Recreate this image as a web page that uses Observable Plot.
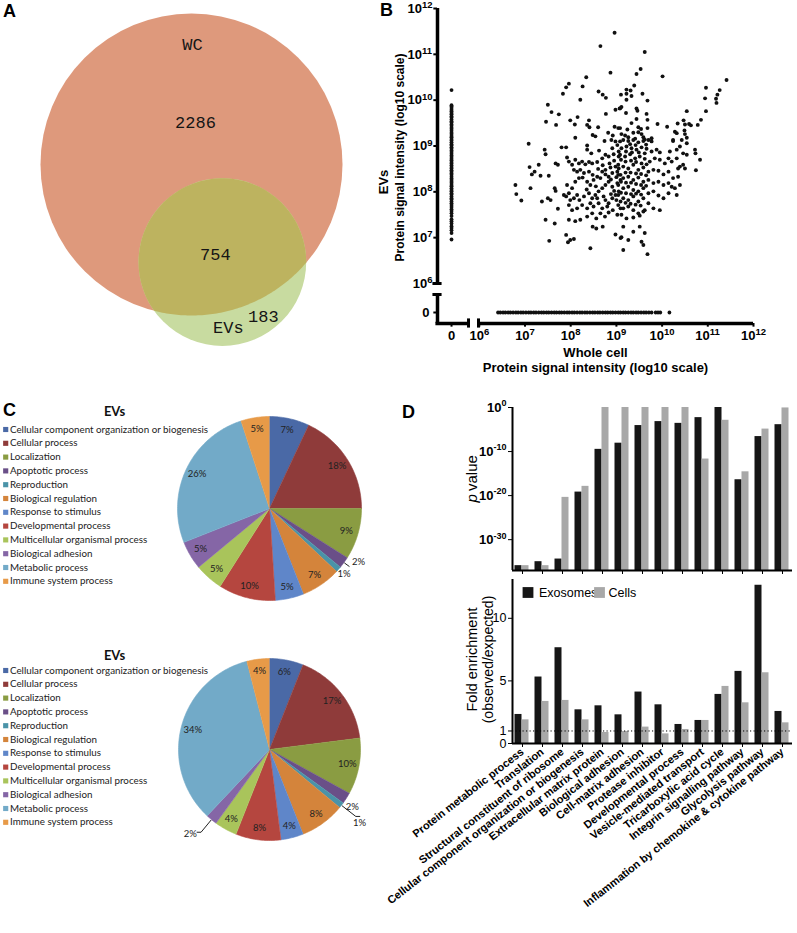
<!DOCTYPE html>
<html><head><meta charset="utf-8">
<script src="https://cdn.jsdelivr.net/npm/d3@7"></script>
<script src="https://cdn.jsdelivr.net/npm/@observablehq/plot@0.6"></script>
<style>
body{margin:0;background:#fff;}
#fig{position:relative;width:797px;height:933px;overflow:hidden;background:#fff;}
.panel{position:absolute;}
.panel svg{overflow:visible;display:block;}
.letter{position:absolute;font:bold 18px "Liberation Sans",Arial,sans-serif;line-height:18px;color:#000;}
</style></head><body><div id="fig"></div>
<script>
// ---------------- DATA ----------------
// Panel A: Venn counts
const vennSets = ["WC", "EVs"];
const vennOnly = [2286, 183];      // WC only, EVs only
const vennShared = 754;

// Panel B: proteins found in both fractions, [log10 whole-cell intensity, log10 EV intensity]
const scatterLog10 = [
[8.96,11.47],[8.65,11.18],[8.87,10.60],[8.34,10.50],[7.96,10.36],[7.90,10.28],[8.26,10.30],[7.83,10.14],[8.21,10.01],[8.61,10.19],[8.70,10.12],[8.77,10.05],[7.50,9.90],[7.58,9.74],[7.74,9.69],[7.46,9.53],[7.68,9.46],[7.99,9.56],[8.09,9.47],[8.15,9.63],[8.40,9.56],[8.36,9.46],[8.41,9.41],[8.77,9.70],[8.98,9.79],[9.07,9.82],[8.60,9.41],[8.96,9.42],[9.04,9.39],[8.10,9.18],[8.48,9.24],[8.54,9.21],[8.82,9.29],[8.92,9.23],
[9.62,11.05],[9.53,10.68],[9.44,10.57],[10.01,10.52],[11.41,10.44],[9.39,10.32],[9.22,10.23],[9.31,10.21],[10.96,10.27],[11.26,10.22],[11.21,10.12],[9.10,10.12],[9.22,10.14],[9.33,10.09],[9.57,10.14],[9.22,10.01],[9.68,9.99],[10.94,10.04],[11.18,10.03],[11.19,9.94],[9.08,9.82],[9.11,9.85],[9.44,9.82],[9.46,9.77],[9.21,9.72],[10.54,9.76],[10.96,9.76],[9.66,9.70],[9.44,9.59],[9.68,9.57],[9.33,9.50],[9.90,9.48],[10.11,9.42],[10.34,9.49],[10.47,9.56],[10.50,9.47],[10.59,9.48],[10.63,9.45],[10.78,9.46],[10.85,9.57],[9.08,9.39],[9.24,9.36],[9.48,9.41],[9.54,9.37],[9.68,9.39],[9.77,9.17],[10.28,9.31],[10.32,9.28],[10.49,9.34],[10.50,9.26],[10.54,9.18],[10.24,9.13],[9.11,9.26],[9.19,9.23],[9.26,9.19],[9.37,9.29],[9.48,9.30],[9.55,9.26],[9.59,9.19],[9.62,9.14],[9.41,9.16],
[7.08,9.05],[7.43,8.92],[7.45,8.82],[7.80,8.97],[7.90,8.97],[8.36,9.01],[8.36,8.92],[8.45,8.84],[8.74,9.11],[8.89,9.13],[8.98,9.10],[9.02,9.02],[8.91,8.95],[9.05,8.88],[7.10,8.54],[7.30,8.59],[7.21,8.44],[7.15,8.38],[7.34,8.35],[7.52,8.35],[7.67,8.62],[7.72,8.59],[7.92,8.75],[7.96,8.66],[8.03,8.59],[8.10,8.70],[8.18,8.62],[8.25,8.66],[8.32,8.60],[8.40,8.65],[8.47,8.62],[8.58,8.65],[8.69,8.73],[8.76,8.81],[8.83,8.77],[8.94,8.82],[9.05,8.77],[8.07,8.48],[8.14,8.44],[8.21,8.48],[8.29,8.41],[8.40,8.44],[8.48,8.37],[8.60,8.50],[8.69,8.44],[8.76,8.48],[8.87,8.53],[8.98,8.55],[9.05,8.51],
[6.79,8.15],[7.12,8.08],[6.81,7.95],[6.92,7.81],[7.37,7.79],[7.50,7.86],[7.56,7.82],[7.65,8.08],[7.67,8.02],[7.72,7.63],[7.85,7.93],[7.90,7.90],[7.96,7.97],[8.03,8.08],[8.10,8.22],[8.18,8.30],[8.26,8.31],[8.36,8.22],[8.43,8.15],[8.50,8.26],[8.58,8.33],[8.65,8.30],[8.76,8.38],[8.83,8.33],[8.91,8.41],[9.02,8.44],[9.09,8.37],[7.92,8.15],[7.99,7.82],[8.07,7.86],[8.14,7.93],[8.19,7.82],[8.29,7.90],[8.40,7.97],[8.47,7.86],[8.54,7.93],[8.61,8.01],[8.69,8.08],[8.76,8.15],[8.83,8.22],[8.91,8.11],[9.02,8.19],[9.09,8.26],
[7.96,7.71],[8.03,7.60],[8.14,7.64],[8.25,7.71],[8.36,7.64],[8.43,7.75],[8.50,7.68],[8.61,7.75],[8.69,7.64],[8.76,7.82],[8.83,7.75],[8.91,7.86],[8.98,7.93],[9.05,8.01],[9.09,7.79],[7.45,7.39],[7.65,7.31],[7.96,7.39],[8.10,7.36],[8.21,7.39],[8.36,7.46],[8.47,7.53],[8.56,7.42],[8.65,7.53],[8.75,7.46],[8.83,7.55],[8.92,7.60],[9.02,7.50],[9.09,7.64],[8.48,7.24],[8.56,7.20],[8.70,7.24],[8.98,7.07],[9.09,6.99],[7.90,7.06],[7.99,6.95],[8.07,6.97],[7.94,6.90],[7.53,6.93],[8.43,6.77],
[9.08,9.10],[9.15,9.13],[9.26,9.11],[9.37,9.13],[9.48,9.08],[9.59,9.11],[9.70,9.13],[9.77,9.10],[10.24,9.11],[10.43,9.13],[10.54,9.06],[9.11,8.95],[9.22,8.99],[9.33,8.95],[9.44,8.92],[9.55,8.97],[9.66,8.94],[9.77,8.88],[9.88,8.92],[9.95,8.86],[10.17,8.88],[10.32,8.92],[10.39,8.99],[10.46,8.84],[10.54,8.81],[10.72,8.92],[10.73,8.84],[10.83,8.70],[10.74,8.47],
[9.08,8.81],[9.19,8.77],[9.30,8.82],[9.41,8.73],[9.51,8.77],[9.62,8.72],[9.73,8.66],[9.84,8.73],[9.95,8.70],[10.06,8.62],[10.14,8.73],[10.21,8.66],[10.32,8.73],[10.39,8.55],[10.46,8.59],[10.50,8.51],[10.35,8.51],[9.04,8.59],[9.15,8.55],[9.26,8.51],[9.37,8.59],[9.48,8.48],[9.59,8.53],[9.70,8.44],[9.81,8.48],[9.92,8.46],[10.03,8.38],[10.14,8.44],[10.24,8.30],[10.35,8.33],[10.39,8.15],[10.28,8.08],[10.32,7.93],
[9.04,8.37],[9.15,8.30],[9.26,8.33],[9.37,8.26],[9.48,8.31],[9.59,8.22],[9.70,8.26],[9.81,8.19],[9.92,8.22],[10.03,8.15],[10.14,8.19],[10.21,8.11],[9.04,8.15],[9.15,8.08],[9.26,8.11],[9.37,8.04],[9.48,8.01],[9.59,8.08],[9.70,7.97],[9.81,8.01],[9.92,7.92],[10.03,7.86],[10.14,7.97],
[9.04,7.93],[9.15,7.86],[9.26,7.82],[9.37,7.90],[9.48,7.79],[9.59,7.86],[9.70,7.75],[9.81,7.64],[9.95,7.60],[9.62,7.60],[9.04,7.71],[9.15,7.64],[9.26,7.68],[9.37,7.60],[9.48,7.53],[9.59,7.57],[9.11,7.50],[9.22,7.42],[9.37,7.44],[9.51,7.48],[9.15,7.24],[9.37,7.13],[9.51,7.24],[9.62,7.10],[9.11,7.01],[9.26,6.95],[9.55,6.91],[9.59,6.84],[9.15,6.73],[9.68,6.64],
[8.62,8.90],[8.70,8.58],[8.85,8.62],[8.95,8.68],[9.00,8.32],[8.88,8.27],[8.95,8.02],[8.72,7.90],[8.88,7.95],[9.00,7.82],[8.80,7.68],[8.58,7.86],[8.35,8.05],[8.55,8.12],[9.10,8.70],[9.20,8.66],[9.32,8.68],[9.43,8.65],[9.55,8.62],[9.66,8.60],[9.20,8.42],[9.31,8.42],[9.43,8.40],[9.54,8.39],[9.65,8.36],[9.10,8.22],[9.21,8.20],[9.32,8.20],[9.43,8.17],[9.54,8.15],[9.65,8.13],[9.10,7.98],[9.21,7.97],[9.32,7.95],[9.43,7.96],[9.54,7.94],[9.20,7.76],[9.31,7.74],[9.42,7.72],[9.53,7.70],[9.21,8.88],[9.34,8.86],[9.49,8.86],[9.62,8.84],[9.30,9.04],[9.42,9.02],[9.65,9.03]
];
// proteins with EV signal only (whole cell = 0): log10 EV intensity
const evOnlyLog10 = [10.22,9.89,9.86,9.83,9.79,9.76,9.72,9.69,9.65,9.62,9.58,9.54,9.51,9.47,9.44,9.40,9.37,9.33,9.29,9.26,9.22,9.19,9.15,9.12,9.08,9.04,9.01,8.97,8.94,8.90,8.87,8.83,8.79,8.76,8.72,8.69,8.65,8.62,8.58,8.54,8.51,8.47,8.44,8.40,8.37,8.33,8.29,8.26,8.22,8.19,8.15,8.12,8.08,8.04,8.01,7.97,7.94,7.90,7.86,7.83,7.79,7.75,7.71,7.67,7.62,7.58,7.53,7.47,7.40,7.36,7.31,7.25,7.21,7.16,7.10,6.96];
// proteins with whole-cell signal only (EV = 0): log10 whole-cell intensity
const wcOnlyLog10 = [6.41,6.46,6.52,6.57,6.63,6.68,6.74,6.80,6.85,6.91,6.96,7.02,7.08,7.13,7.19,7.24,7.30,7.36,7.41,7.47,7.52,7.58,7.64,7.69,7.75,7.80,7.86,7.92,7.97,8.03,8.08,8.14,8.20,8.25,8.31,8.36,8.42,8.48,8.53,8.59,8.64,8.70,8.76,8.81,8.87,8.92,8.98,9.04,9.09,9.15,9.20,9.26,9.32,9.37,9.43,9.48,9.54,9.60,9.65,9.71,9.77,9.86,9.91,9.96,10.16];
const bExponents = [6,7,8,9,10,11,12];

// Panel C: GO categories and percentages
const goCategories = ["Cellular component organization or biogenesis","Cellular process","Localization","Apoptotic process","Reproduction","Biological regulation","Response to stimulus","Developmental process","Multicellular organismal process","Biological adhesion","Metabolic process","Immune system process"];
const pie1Pct = [7,18,9,2,1,7,5,10,5,5,26,5];
const pie2Pct = [6,17,10,2,1,8,4,8,4,2,34,4];

// Panel D: enrichment
const dTerms = ["Protein metabolic process","Translation","Structural constituent of ribosome","Cellular component organization or biogenesis","Extracellular matrix protein","Biological adhesion","Cell-matrix adhesion","Protease inhibitor","Developmental process","Vesicle-mediated transport","Tricarboxylic acid cycle","Integrin signalling pathway","Glycolysis pathway","Inflammation by chemokine & cytokine pathway"];
const dSeries = ["Exosomes", "Cells"];
const pExoLog10  = [-35.9,-35.0,-34.4,-19.2,-9.5,-8.1,-4.1,-3.2,-3.6,-2.3,0,-16.4,-6.6,-3.9];
const pCellLog10 = [-35.9,-35.9,-20.4,-17.9,0,0,0,0,0,-11.7,-2.9,-14.6,-4.9,-0.1];
const foldExo  = [2.32,5.31,7.65,2.69,3.01,2.29,4.11,3.09,1.52,1.84,3.92,5.76,12.64,2.56];
const foldCell = [1.89,3.36,3.44,1.89,0.88,0.96,1.31,0.77,1.12,1.84,4.56,3.25,5.65,1.65];
const pTickExp = [0,-10,-20,-30];
const foldTicks = [0,1,5,10];

// ---------------- STYLE ----------------
const SANS = "Liberation Sans, Arial, sans-serif";
const CAL = "Lato, 'Open Sans', sans-serif";
const goColors = ["#4a69a6","#8f3b3a","#8a9c42","#6a4f88","#4a93a8","#d4843b","#5f86c9","#b5463f","#a9c45b","#8566a6","#72aac8","#e79a48"];
const EXO = "#161616", CELL = "#a8a8a8";

const fig = document.getElementById("fig");
function place(node, left, top) {
  const d = document.createElement("div");
  d.className = "panel"; d.style.left = left + "px"; d.style.top = top + "px";
  d.appendChild(node); fig.appendChild(d);
}
function letter(t, left, top) {
  const d = document.createElement("div");
  d.className = "letter"; d.textContent = t; d.style.left = left + "px"; d.style.top = top + "px";
  fig.appendChild(d);
}
const baseStyle = {background: "transparent", overflow: "visible", fontFamily: SANS, color: "#000"};

// ---------------- PANEL A ----------------
{
  const W = 370, H = 370;
  const wcTotal = vennOnly[0] + vennShared, evTotal = vennOnly[1] + vennShared;
  const R_MAX = 151;
  const r1 = R_MAX, r2 = R_MAX * Math.sqrt(evTotal / wcTotal);
  const lensArea = d => {
    const a1 = Math.acos((d*d + r1*r1 - r2*r2) / (2*d*r1));
    const a2 = Math.acos((d*d + r2*r2 - r1*r1) / (2*d*r2));
    return r1*r1*(a1 - Math.sin(2*a1)/2) + r2*r2*(a2 - Math.sin(2*a2)/2);
  };
  const target = Math.PI * r1 * r1 * vennShared / wcTotal;
  let lo = r1 - r2 + 1e-6, hi = r1 + r2 - 1e-6;
  for (let k = 0; k < 60; k++) { const m = (lo + hi) / 2; if (lensArea(m) > target) lo = m; else hi = m; }
  const dist = (lo + hi) / 2;
  const c1 = {x: 191, y: 164}, th = Math.atan2(98, 31);
  const c2 = {x: c1.x + dist*Math.cos(th), y: c1.y + dist*Math.sin(th)};
  const a1 = Math.acos((dist*dist + r1*r1 - r2*r2) / (2*dist*r1));
  const a2 = Math.acos((dist*dist + r2*r2 - r1*r1) / (2*dist*r2));
  const lens = [];
  for (let k = 0; k <= 80; k++) { const t = th - a1 + 2*a1*k/80; lens.push({x: c1.x + r1*Math.cos(t), y: c1.y + r1*Math.sin(t)}); }
  for (let k = 0; k <= 80; k++) { const t = th + Math.PI - a2 + 2*a2*k/80; lens.push({x: c2.x + r2*Math.cos(t), y: c2.y + r2*Math.sin(t)}); }
  const circles = [{set: vennSets[0], n: wcTotal, ...c1, fill: "#de997c"}, {set: vennSets[1], n: evTotal, ...c2, fill: "#c8dba0"}];
  const labels = [
    {t: vennSets[0], x: c1.x + 1, y: c1.y - 120},
    {t: String(vennOnly[0]), x: c1.x + 4, y: c1.y - 42},
    {t: String(vennShared), x: c2.x - 7, y: c2.y - 8},
    {t: String(vennOnly[1]), x: c2.x + 41, y: c2.y + 54},
    {t: vennSets[1], x: c2.x + 6, y: c2.y + 65}
  ];
  const p = Plot.plot({
    width: W, height: H, margin: 0,
    x: {domain: [0, W], range: [0, W], axis: null},
    y: {domain: [0, H], range: [0, H], axis: null},
    r: {type: "sqrt", domain: [0, wcTotal], range: [0, R_MAX]},
    style: baseStyle,
    marks: [
      Plot.dot(circles, {x: "x", y: "y", r: "n", fill: "fill", stroke: null}),
      Plot.line(lens, {x: "x", y: "y", fill: "#bdb35f", stroke: null}),
      Plot.text(labels, {x: "x", y: "y", text: "t", fontFamily: "Liberation Mono, DejaVu Sans Mono, monospace", fontSize: 17, fill: "#151515"})
    ]
  });
  place(p, 0, 0);
}

// ---------------- PANEL B ----------------
{
  const XL = 5.085, XZ = 5.392, XB1 = 5.764, XB2 = 5.982;
  const YB = 5.127, YZ = 5.367, YB1 = 5.76;
  const one = bExponents.filter(e => e < 10), two = bExponents.filter(e => e >= 10);
  const sw = n => n * 5.3;
  const lab = [];
  for (const [vals, w] of [[one, sw(1)], [two, sw(2)]]) {
    lab.push(Plot.text(vals, {x: XL, y: d => d, text: () => "10", textAnchor: "end", dx: -5 - w, fontSize: 13, fontWeight: "bold"}));
    lab.push(Plot.text(vals, {x: XL, y: d => d, text: d => String(d), textAnchor: "start", dx: -5 - w, dy: -3.5, fontSize: 9.5, fontWeight: "bold"}));
    const dxx = 7.25 - w / 2;
    lab.push(Plot.text(vals, {x: d => d, y: YB, text: () => "10", textAnchor: "end", dx: dxx, dy: 12, fontSize: 13, fontWeight: "bold"}));
    lab.push(Plot.text(vals, {x: d => d, y: YB, text: d => String(d), textAnchor: "start", dx: dxx, dy: 8.5, fontSize: 9.5, fontWeight: "bold"}));
  }
  const p = Plot.plot({
    width: 427, height: 380, marginLeft: 67, marginRight: 44, marginTop: 8, marginBottom: 57,
    x: {domain: [XL, 12], axis: null}, y: {domain: [YB, 12], axis: null},
    style: baseStyle,
    marks: [
      Plot.dot(scatterLog10, {x: d => d[0], y: d => d[1], r: 1.95, fill: "#111", stroke: null}),
      Plot.dot(evOnlyLog10, {x: () => XZ, y: d => d, r: 1.9, fill: "#111", stroke: null}),
      Plot.dot(wcOnlyLog10, {x: d => d, y: () => YZ, r: 1.9, fill: "#111", stroke: null}),
      Plot.ruleX([XL], {y1: 6, y2: 12, strokeWidth: 3.5}),
      Plot.ruleX([XL], {y1: YB, y2: YB1, strokeWidth: 3.5}),
      Plot.ruleY([YB], {x1: XL - 0.035, x2: XB1, strokeWidth: 3.5}),
      Plot.ruleY([YB], {x1: XB2, x2: 12, strokeWidth: 3.5}),
      Plot.ruleY([6, YB1], {x1: XL - 0.1, x2: XL + 0.1, strokeWidth: 3}),
      Plot.ruleX([XB1, XB2], {y1: YB - 0.1, y2: YB + 0.1, strokeWidth: 3}),
      Plot.ruleY([YZ, ...bExponents], {x1: XL - 0.08, x2: XL, strokeWidth: 2}),
      Plot.ruleX([XZ, ...bExponents], {y1: YB - 0.08, y2: YB, strokeWidth: 2}),
      ...lab,
      Plot.text(["0"], {x: XL, y: YZ, text: d => d, textAnchor: "end", dx: -8, fontSize: 13, fontWeight: "bold"}),
      Plot.text(["0"], {x: XZ, y: YB, text: d => d, dy: 12, fontSize: 13, fontWeight: "bold"}),
      Plot.text(["Whole cell"], {frameAnchor: "bottom", lineAnchor: "middle", text: d => d, dy: 29, fontSize: 13, fontWeight: "bold"}),
      Plot.text(["Protein signal intensity (log10 scale)"], {frameAnchor: "bottom", lineAnchor: "middle", text: d => d, dy: 44, fontSize: 13, fontWeight: "bold"}),
      Plot.text(["EVs"], {frameAnchor: "left", textAnchor: "middle", lineAnchor: "middle", text: d => d, rotate: -90, dx: -54, dy: 16, fontSize: 13, fontWeight: "bold"}),
      Plot.text(["Protein signal intensity (log10 scale)"], {frameAnchor: "left", textAnchor: "middle", lineAnchor: "middle", text: d => d, rotate: -90, dx: -37, dy: -8.5, fontSize: 12, fontWeight: "bold"})
    ]
  });
  place(p, 370, 0);
}

// ---------------- PANEL C ----------------
{
  const W = 400, H = 455, TOP = 395;
  const pies = [
    {pct: pie1Pct, cx: 269, cy: 508 - TOP, r: 92, legY: 429 - TOP, titleY: 411 - TOP,
     out: {3: {f: 1.13, da: -5}, 4: {f: 1.08, da: 0}}, leaders: {3: [1.01, 1.07]}},
    {pct: pie2Pct, cx: 269, cy: 749 - TOP, r: 91, legY: 670 - TOP, titleY: 655 - TOP,
     out: {3: {f: 1.11, da: 2.5}, 4: {f: 1.28, da: 1.6}, 9: {f: 1.27, da: 3.6}}, leaders: {4: [1.01, 1.2, 4], 9: [1.01, 1.18, -4]}}
  ];
  const marks = [];
  pies.forEach((P, pi) => {
    const arcs = d3.pie().sort(null)(P.pct);
    const pts = [], labs = [], lead = [];
    arcs.forEach((a, i) => {
      const cat = goCategories[i];
      pts.push({cat, x: P.cx, y: P.cy});
      const n = Math.max(3, Math.ceil((a.endAngle - a.startAngle) / 0.02));
      for (let k = 0; k <= n; k++) {
        const t = a.startAngle + (a.endAngle - a.startAngle) * k / n;
        pts.push({cat, x: P.cx + P.r * Math.sin(t), y: P.cy - P.r * Math.cos(t)});
      }
      const mid = (a.startAngle + a.endAngle) / 2;
      const o = P.out[i];
      const f = o ? o.f : 0.87, ang = mid + (o ? o.da * Math.PI / 180 : 0);
      labs.push({t: P.pct[i] + "%", x: P.cx + f * P.r * Math.sin(ang), y: P.cy - f * P.r * Math.cos(ang)});
      const L = P.leaders[i];
      if (L) {
        const p0 = {k: i, x: P.cx + L[0]*P.r*Math.sin(mid), y: P.cy - L[0]*P.r*Math.cos(mid)};
        const p1 = {k: i, x: P.cx + L[1]*P.r*Math.sin(mid), y: P.cy - L[1]*P.r*Math.cos(mid)};
        lead.push(p0, p1);
        if (L[2]) lead.push({k: i, x: p1.x + L[2], y: p1.y});
      }
    });
    marks.push(Plot.line(pts, {x: "x", y: "y", z: "cat", fill: "cat", stroke: "cat", strokeWidth: 0.6}));
    marks.push(Plot.line(lead, {x: "x", y: "y", z: "k", stroke: "#222", strokeWidth: 1}));
    marks.push(Plot.text(labs, {x: "x", y: "y", text: "t", fontFamily: CAL, fontSize: 9.5, fill: "#222"}));
    marks.push(Plot.dot(goCategories, {x: 5.2, y: (d, i) => P.legY + i * 13.8, symbol: "square", r: 2.9, fill: d => d, stroke: null}));
    marks.push(Plot.text(goCategories, {x: 9.5, y: (d, i) => P.legY + i * 13.8, text: d => d, textAnchor: "start", fontFamily: CAL, fontSize: 9.8, fill: "#222"}));
    marks.push(Plot.text(["EVs"], {x: 114, y: P.titleY, text: d => d, fontFamily: CAL, fontSize: 13, fontWeight: "bold", fill: "#111"}));
  });
  const p = Plot.plot({
    width: W, height: H, margin: 0,
    x: {domain: [0, W], range: [0, W], axis: null},
    y: {domain: [0, H], range: [0, H], axis: null},
    color: {domain: goCategories, range: goColors},
    style: baseStyle,
    marks
  });
  place(p, 0, TOP);
}

// ---------------- PANEL D ----------------
{
  const rows = dTerms.map((term, i) => ({term, pExo: 10 ** pExoLog10[i], pCell: 10 ** pCellLog10[i], fExo: foldExo[i], fCell: foldCell[i]}));
  const P_MIN = 1e-37;
  const supW = s => s.length * 5;
  const tickLab = [];
  for (const e of pTickExp) {
    const s = String(e), w = supW(s) - (e < 0 ? 2 : 0);
    tickLab.push(Plot.text([e], {frameAnchor: "left", lineAnchor: "middle", y: d => 10 ** d, text: () => "10", textAnchor: "end", dx: -6 - w, fontSize: 13, fontWeight: "bold"}));
    tickLab.push(Plot.text([e], {frameAnchor: "left", lineAnchor: "middle", y: d => 10 ** d, text: () => s, textAnchor: "start", dx: -6 - w, dy: -4, fontSize: 9, fontWeight: "bold"}));
  }
  const top = Plot.plot({
    width: 397, height: 178, marginLeft: 112, marginRight: 5, marginTop: 7, marginBottom: 8,
    x: {type: "band", domain: dTerms, padding: 0, tickFormat: () => "", tickSize: 4, label: null},
    y: {type: "log", domain: [P_MIN, 1], ticks: pTickExp.map(e => 10 ** e), tickFormat: () => "", tickSize: 4, label: null},
    style: {...baseStyle, fontSize: "11px"},
    marks: [
      Plot.barY(rows, {x: "term", y1: P_MIN, y2: "pExo", fill: EXO, insetLeft: 2.5, insetRight: 10.5}),
      Plot.barY(rows, {x: "term", y1: P_MIN, y2: "pCell", fill: CELL, insetLeft: 9.5, insetRight: 3.5}),
      Plot.ruleY([P_MIN], {strokeWidth: 2}),
      Plot.ruleX([dTerms[0]], {dx: -10, strokeWidth: 2}),
      ...tickLab,
      Plot.text(["p"], {frameAnchor: "left", lineAnchor: "middle", text: d => d, rotate: -90, textAnchor: "start", dx: -40, dy: 13.5, fontSize: 15, fontStyle: "italic"}),
      Plot.text(["value"], {frameAnchor: "left", lineAnchor: "middle", text: d => d, rotate: -90, textAnchor: "start", dx: -40, dy: 2, fontSize: 15})
    ]
  });
  place(top, 400, 400);

  const bottom = Plot.plot({
    width: 397, height: 355, marginLeft: 112, marginRight: 5, marginTop: 1, marginBottom: 190,
    x: {type: "band", domain: dTerms, padding: 0, tickRotate: -38, tickSize: 4, tickPadding: 3, label: null},
    y: {domain: [0, 13.1], ticks: foldTicks, tickFormat: () => "", tickSize: 4, label: null},
    style: {...baseStyle, fontSize: "11px", fontWeight: "bold"},
    marks: [
      Plot.barY(rows, {x: "term", y: "fExo", fill: EXO, insetLeft: 2.5, insetRight: 10.5}),
      Plot.barY(rows, {x: "term", y: "fCell", fill: CELL, insetLeft: 9.5, insetRight: 3.5}),
      Plot.ruleY([1], {stroke: "#000", strokeWidth: 1, strokeDasharray: "1.2,2.3"}),
      Plot.ruleY([0], {strokeWidth: 2}),
      Plot.ruleX([dTerms[0]], {dx: -10, strokeWidth: 2}),
      Plot.text(foldTicks, {frameAnchor: "left", lineAnchor: "middle", y: d => d, text: d => String(d), textAnchor: "end", dx: -6, fontSize: 12.5, fontWeight: "normal"}),
      Plot.text(["Fold enrichment"], {frameAnchor: "left", textAnchor: "middle", lineAnchor: "middle", text: d => d, rotate: -90, dx: -40, dy: -2, fontSize: 14.5, fontWeight: "normal"}),
      Plot.text(["(observed/expected)"], {frameAnchor: "left", textAnchor: "middle", lineAnchor: "middle", text: d => d, rotate: -90, dx: -24, dy: -2, fontSize: 14, fontWeight: "normal"}),
      Plot.dot([dSeries[0]], {frameAnchor: "top-left", dx: 15.5, dy: 13, symbol: "square", r: 6.1, fill: EXO, stroke: null}),
      Plot.text([dSeries[0]], {frameAnchor: "top-left", lineAnchor: "middle", text: d => d, dx: 26.5, dy: 13, textAnchor: "start", fontSize: 12.5, fontWeight: "normal"}),
      Plot.dot([dSeries[1]], {frameAnchor: "top-left", dx: 87, dy: 13, symbol: "square", r: 6.1, fill: CELL, stroke: null}),
      Plot.text([dSeries[1]], {frameAnchor: "top-left", lineAnchor: "middle", text: d => d, dx: 96, dy: 13, textAnchor: "start", fontSize: 12.5, fontWeight: "normal"})
    ]
  });
  place(bottom, 400, 578);
}

letter("A", 3, 2);
letter("B", 380, 1);
letter("C", 3, 401);
letter("D", 402, 403);
</script>
</body></html>
